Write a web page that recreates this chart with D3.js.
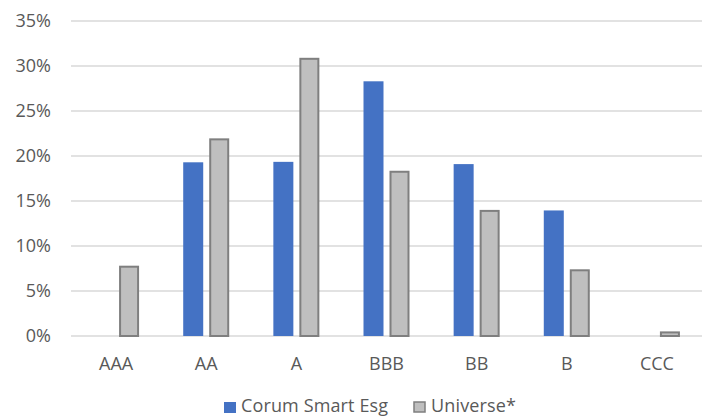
<!DOCTYPE html>
<html>
<head>
<meta charset="utf-8">
<script src="https://cdn.jsdelivr.net/npm/d3@7"></script>
<style>
  body { margin: 0; background: #fff; }
  svg text { font-family: "Open Sans", sans-serif; fill: #595959; }
</style>
</head>
<body>
<svg id="chart" width="707" height="416"></svg>
<script>
// Données
const ratings = ["AAA", "AA", "A", "BBB", "BB", "B", "CCC"];
const corum = [0, 19.3, 19.35, 28.3, 19.1, 13.95, 0];
const universe = [7.7, 21.85, 30.8, 18.25, 13.9, 7.3, 0.4];
const yTicks = [0, 5, 10, 15, 20, 25, 30, 35];
const seriesNames = ["Corum Smart Esg", "Universe*"];

const svg = d3.select("#chart");
const margin = { top: 21, right: 5, bottom: 80, left: 71 };
const width = +svg.attr("width");
const height = +svg.attr("height");
const plotW = width - margin.left - margin.right;
const plotH = height - margin.top - margin.bottom;

const g = svg.append("g").attr("transform", `translate(${margin.left},${margin.top})`);

const x = d3.scaleBand().domain(ratings).range([0, plotW]);
const y = d3.scaleLinear().domain([0, 35]).range([plotH, 0]);

// Grille horizontale
g.selectAll(".grid")
  .data(yTicks)
  .join("line")
    .attr("x1", 0)
    .attr("x2", plotW)
    .attr("y1", d => y(d))
    .attr("y2", d => y(d))
    .attr("stroke", "#d9d9d9")
    .attr("stroke-width", 1.3);

// Axe Y
const yAxis = g.append("g")
  .call(d3.axisLeft(y).tickValues(yTicks).tickFormat(d => d + "%").tickSize(0).tickPadding(20));
yAxis.select(".domain").remove();
yAxis.selectAll("text").attr("font-size", 18).attr("fill", "#595959");

// Axe X
const xAxis = g.append("g")
  .attr("transform", `translate(0,${plotH})`)
  .call(d3.axisBottom(x).tickSize(0).tickPadding(21));
xAxis.select(".domain").remove();
xAxis.selectAll("text").attr("font-size", 18).attr("fill", "#595959");

const barW = 20;
const gap = 3;

// Barres Corum
g.selectAll(".corum")
  .data(ratings)
  .join("rect")
    .attr("x", (d, i) => x(d) + x.bandwidth() / 2 - gap - barW)
    .attr("y", (d, i) => y(corum[i]))
    .attr("width", barW)
    .attr("height", (d, i) => y(0) - y(corum[i]))
    .attr("fill", "#4472c4");

// Barres Universe
g.selectAll(".universe")
  .data(ratings)
  .join("rect")
    .attr("x", (d, i) => x(d) + x.bandwidth() / 2 + gap + 1)
    .attr("y", (d, i) => y(universe[i]))
    .attr("width", barW - 2)
    .attr("height", (d, i) => y(0) - y(universe[i]))
    .attr("fill", "#bfbfbf")
    .attr("stroke", "#7f7f7f")
    .attr("stroke-width", 2);

// Légende
const legend = svg.append("g");
const legX = [224, 414];
const legColors = ["#4472c4", "#bfbfbf"];
seriesNames.forEach((name, i) => {
  legend.append("rect")
    .attr("x", legX[i])
    .attr("y", 402)
    .attr("width", i === 0 ? 12 : 11)
    .attr("height", i === 0 ? 11 : 10)
    .attr("fill", legColors[i])
    .attr("stroke", i === 0 ? "none" : "#7f7f7f")
    .attr("stroke-width", 1.5);
  legend.append("text")
    .attr("x", legX[i] + 17)
    .attr("y", 412)
    .attr("font-size", 18)
    .attr("textLength", i === 0 ? 147 : 85)
    .text(name);
});
</script>
</body>
</html>
